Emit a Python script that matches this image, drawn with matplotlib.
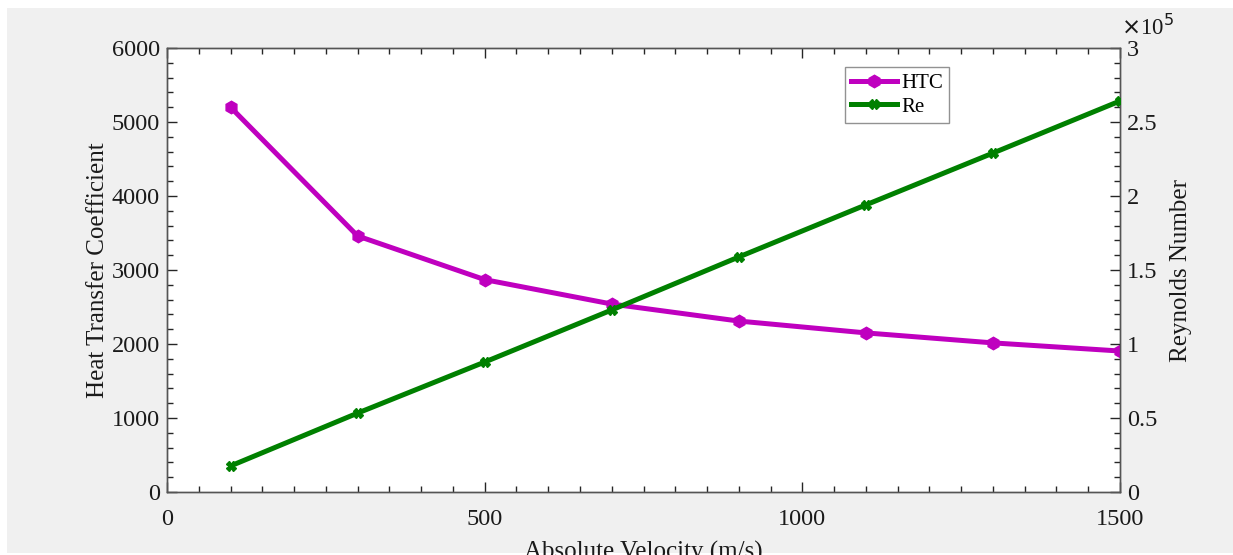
import matplotlib
matplotlib.use("Agg")
import matplotlib.pyplot as plt
from matplotlib.patches import Rectangle
from matplotlib.ticker import MultipleLocator

velocity = [100, 300, 500, 700, 900, 1100, 1300, 1500]
htc = [5200, 3460, 2870, 2540, 2310, 2150, 2015, 1905]
reynolds = [17600, 53300, 87800, 123000, 158800, 194000, 229000, 264200]

x_ticks = [0, 500, 1000, 1500]
left_ticks = [0, 1000, 2000, 3000, 4000, 5000, 6000]
right_ticks = [0, 0.5, 1, 1.5, 2, 2.5, 3]
right_tick_labels = ["0", "0.5", "1", "1.5", "2", "2.5", "3"]

plt.rcParams['font.family'] = ['Liberation Serif', 'DejaVu Serif']
W, H = 1233, 555
fig = plt.figure(figsize=(W / 100, H / 100), dpi=100, facecolor='white')
fig.patches.append(Rectangle((7 / W, 2 / H), 1 - 7 / W, 1 - 10 / H,
                             transform=fig.transFigure, facecolor='#f0f0f0',
                             edgecolor='none', zorder=-10))

ax = fig.add_axes([167 / W, 1 - 492 / H, (1120 - 167) / W, (492 - 48) / H])
ax2 = ax.twinx()
magenta = '#bf00bf'
green = '#008000'

l1, = ax.plot(velocity, htc, color=magenta, lw=3.6, marker='h', ms=9,
              label='HTC', zorder=3)
l2, = ax2.plot(velocity, [r / 1e5 for r in reynolds], color=green, lw=3.6,
               marker='X', ms=7, label='Re', zorder=3)

ax.set_xlim(0, 1500)
ax.set_ylim(0, 6000)
ax2.set_ylim(0, 3)
ax.set_xticks(x_ticks)
ax.set_yticks(left_ticks)
ax2.set_yticks(right_ticks)
ax2.set_yticklabels(right_tick_labels)
ax.xaxis.set_minor_locator(MultipleLocator(50))
ax.yaxis.set_minor_locator(MultipleLocator(200))
ax2.yaxis.set_minor_locator(MultipleLocator(0.1))

fs = 17.5
ax.tick_params(axis='x', which='both', direction='in', top=True, bottom=True,
               labelsize=fs, pad=12, colors='#262626', labelcolor='#1a1a1a')
ax.tick_params(axis='y', which='both', direction='in', left=True, right=False,
               labelsize=fs, pad=5, colors='#262626', labelcolor='#1a1a1a')
ax2.tick_params(axis='y', which='both', direction='in', right=True, left=False,
                labelsize=fs, pad=5, colors='#262626', labelcolor='#1a1a1a')
for a in (ax, ax2):
    a.tick_params(which='major', length=7, width=1)
    a.tick_params(which='minor', length=4, width=1)
    for s in a.spines.values():
        s.set_color('#555555')
        s.set_linewidth(1.0)

ax.set_xlabel('Absolute Velocity (m/s)', fontsize=18, labelpad=8, color='#1a1a1a')
ax.set_ylabel('Heat Transfer Coefficient', fontsize=18, labelpad=2, color='#1a1a1a')
ax2.set_ylabel('Reynolds Number', fontsize=18, labelpad=9, color='#1a1a1a')

fig.text(1121 / W, 1 - 27 / H, r'$\times$10$^5$', fontsize=16.5, ha='left',
         va='center', color='#1a1a1a')

leg = ax.legend([l1, l2], ['HTC', 'Re'], loc='upper left',
                bbox_to_anchor=((845 - 167) / (1120 - 167), 1 - (67 - 48) / 444),
                fontsize=15, frameon=True, fancybox=False, handlelength=2.2,
                handletextpad=0.2, borderpad=0.3, labelspacing=0.2,
                borderaxespad=0)
leg.get_frame().set_edgecolor('#777777')
leg.get_frame().set_linewidth(1.0)
leg.set_zorder(10)

fig.savefig('out.png', dpi=100, facecolor=fig.get_facecolor())
